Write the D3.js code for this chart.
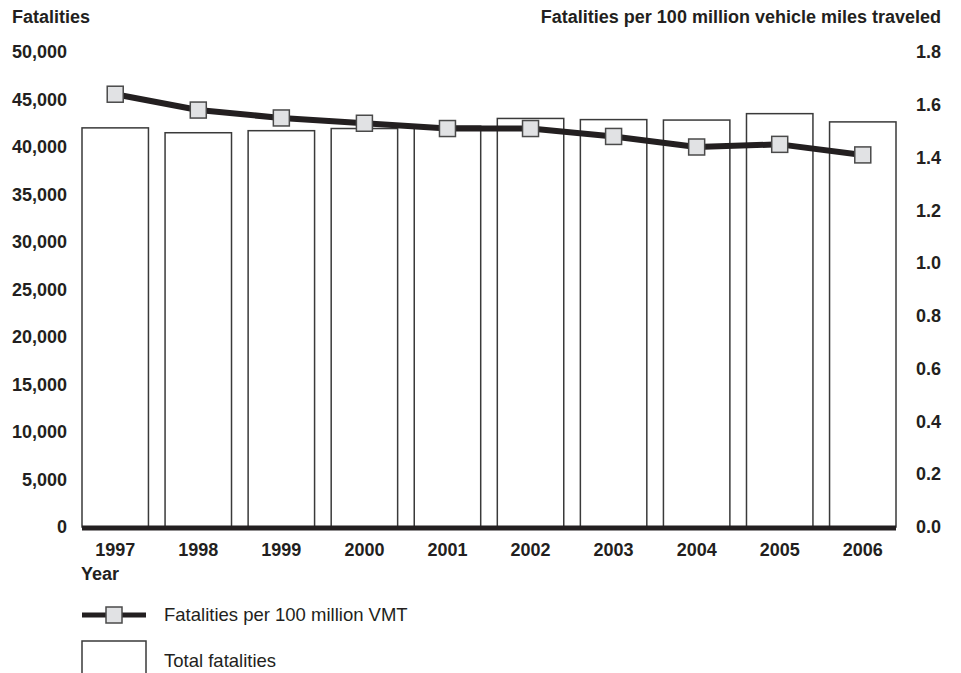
<!DOCTYPE html>
<html>
<head>
<meta charset="utf-8">
<script src="https://cdn.jsdelivr.net/npm/d3@7"></script>
<style>
  body { margin: 0; background: #fff; }
  svg text { font-family: "Liberation Sans", Arial, Helvetica, sans-serif; fill: #231f20; }
</style>
</head>
<body>
<svg id="chart" width="961" height="673"></svg>
<script>
// data
var years = ["1997", "1998", "1999", "2000", "2001", "2002", "2003", "2004", "2005", "2006"];
var fatalities = [42013, 41501, 41717, 41945, 42196, 43005, 42884, 42836, 43510, 42642];
var ratePerVMT = [1.64, 1.58, 1.55, 1.53, 1.51, 1.51, 1.48, 1.44, 1.45, 1.41];
var leftTicks = [0, 5000, 10000, 15000, 20000, 25000, 30000, 35000, 40000, 45000, 50000];
var rightTicks = [0, 0.2, 0.4, 0.6, 0.8, 1.0, 1.2, 1.4, 1.6, 1.8];

var svg = d3.select("#chart");
var ink = "#231f20";
var fs = 18;

var x = d3.scaleBand().domain(years).range([82, 896]).paddingInner(0.2).paddingOuter(0);
var yL = d3.scaleLinear().domain([0, 50000]).range([527, 52]);
var yR = d3.scaleLinear().domain([0, 1.8]).range([527, 52]);

// axis titles
svg.append("text").attr("x", 12).attr("y", 23)
    .attr("font-size", fs).attr("font-weight", "bold").text("Fatalities");
svg.append("text").attr("x", 941).attr("y", 23).attr("text-anchor", "end")
    .attr("font-size", fs).attr("font-weight", "bold").text("Fatalities per 100 million vehicle miles traveled");

// left axis
var leftAxis = d3.axisLeft(yL).tickValues(leftTicks).tickSize(0).tickPadding(0)
    .tickFormat(d3.format(","));
var gl = svg.append("g").attr("transform", "translate(67,0)").call(leftAxis);
gl.select(".domain").remove();
gl.selectAll("text").attr("font-size", fs).attr("font-weight", "bold")
    .attr("font-family", null).attr("fill", ink);

// right axis
var rightAxis = d3.axisRight(yR).tickValues(rightTicks).tickSize(0).tickPadding(0)
    .tickFormat(d3.format(".1f"));
var gr = svg.append("g").attr("transform", "translate(941,0)").call(rightAxis);
gr.select(".domain").remove();
gr.selectAll("text").attr("text-anchor", "end").attr("font-size", fs).attr("font-weight", "bold")
    .attr("font-family", null).attr("fill", ink);

// bars
svg.append("g").selectAll("rect")
    .data(years)
    .enter()
    .append("rect")
    .attr("x", function (d) { return x(d); })
    .attr("y", function (d, i) { return yL(fatalities[i]); })
    .attr("width", x.bandwidth())
    .attr("height", function (d, i) { return yL(0) - yL(fatalities[i]); })
    .attr("fill", "#fff")
    .attr("stroke", "#3a3a3a")
    .attr("stroke-width", 1.5);

// baseline
svg.append("line")
    .attr("x1", x.range()[0]).attr("x2", x.range()[1])
    .attr("y1", yL(0) + 1).attr("y2", yL(0) + 1)
    .attr("stroke", ink).attr("stroke-width", 5);

// x labels
var xAxis = d3.axisBottom(x).tickSize(0).tickPadding(0);
var gx = svg.append("g").attr("transform", "translate(0,543)").call(xAxis);
gx.select(".domain").remove();
gx.selectAll("text").attr("dy", "0.71em").attr("font-size", fs).attr("font-weight", "bold")
    .attr("font-family", null).attr("fill", ink);
svg.append("text").attr("x", 81).attr("y", 580)
    .attr("font-size", fs).attr("font-weight", "bold").text("Year");

// rate line
var cx = function (d, i) { return x(years[i]) + x.bandwidth() / 2; };
var line = d3.line().x(cx).y(function (d) { return yR(d); });
svg.append("path").datum(ratePerVMT)
    .attr("d", line)
    .attr("fill", "none")
    .attr("stroke", ink)
    .attr("stroke-width", 6)
    .attr("stroke-linejoin", "round");

var ms = 16;
svg.append("g").selectAll("rect")
    .data(ratePerVMT)
    .enter()
    .append("rect")
    .attr("x", function (d, i) { return cx(d, i) - ms / 2; })
    .attr("y", function (d) { return yR(d) - ms / 2; })
    .attr("width", ms).attr("height", ms)
    .attr("fill", "#e1e2e4")
    .attr("stroke", "#4a4a4a")
    .attr("stroke-width", 1.5);

// legend
var lg = svg.append("g");
lg.append("line").attr("x1", 82).attr("x2", 146).attr("y1", 615).attr("y2", 615)
    .attr("stroke", ink).attr("stroke-width", 5);
lg.append("rect").attr("x", 114 - ms / 2).attr("y", 615 - ms / 2).attr("width", ms).attr("height", ms)
    .attr("fill", "#e1e2e4").attr("stroke", "#4a4a4a").attr("stroke-width", 1.5);
lg.append("text").attr("x", 164).attr("y", 621).attr("font-size", 18.5).text("Fatalities per 100 million VMT");
lg.append("rect").attr("x", 82).attr("y", 641).attr("width", 64).attr("height", 40)
    .attr("fill", "#fff").attr("stroke", "#3a3a3a").attr("stroke-width", 1.5);
lg.append("text").attr("x", 164).attr("y", 667).attr("font-size", 18.5).text("Total fatalities");
</script>
</body>
</html>
